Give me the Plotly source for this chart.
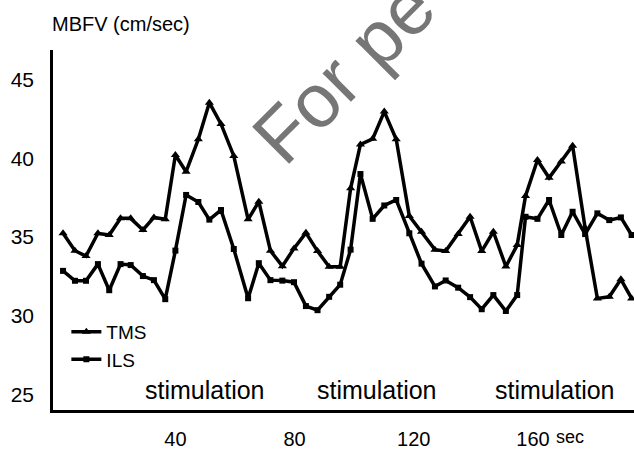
import plotly.graph_objects as go

# time (sec) of each sample
time_s = [2.3, 6.3, 10.0, 14.0, 17.8, 21.6, 25.0, 29.1, 32.8, 36.6,
          40.0, 43.6, 47.7, 51.4, 55.3, 59.6, 64.4, 68.0, 71.9, 75.9,
          79.8, 83.8, 87.7, 91.6, 95.3, 98.8, 102.1, 106.2, 110.1, 114.1,
          118.5, 122.6, 127.1, 130.7, 134.9, 138.9, 142.8, 146.7, 150.9, 154.7,
          157.5, 161.5, 165.4, 169.5, 173.3, 177.5, 181.6, 185.6, 189.5, 193.1]

# mean blood flow velocity (cm/sec)
tms = [35.24, 34.13, 33.79, 35.24, 35.13, 36.19, 36.19, 35.45, 36.25, 36.13,
       40.22, 39.16, 41.22, 43.55, 42.20, 40.16, 36.13, 37.25, 34.13, 33.15,
       34.28, 35.27, 34.11, 33.11, 33.11, 38.10, 40.89, 41.25, 42.98, 41.22,
       36.34, 35.34, 34.20, 34.11, 35.19, 36.29, 34.11, 35.34, 33.13, 34.49,
       37.61, 39.90, 38.77, 39.80, 40.81, 35.57, 31.10, 31.20, 32.31, 31.10]

ils = [32.85, 32.22, 32.22, 33.28, 31.62, 33.28, 33.22, 32.52, 32.26, 31.05,
       34.14, 37.68, 37.23, 36.11, 36.72, 34.24, 31.11, 33.34, 32.26, 32.23,
       32.13, 30.61, 30.35, 31.20, 31.97, 34.20, 39.01, 36.16, 37.01, 37.36,
       35.24, 33.31, 31.86, 32.24, 31.78, 31.18, 30.41, 31.31, 30.30, 31.31,
       36.29, 36.16, 37.36, 35.13, 36.61, 35.19, 36.51, 36.08, 36.25, 35.13]

x_ticks = [40, 80, 120, 160]
x_tick_labels = ["40", "80", "120", "160"]
y_ticks = [25, 30, 35, 40, 45]
y_tick_labels = ["25", "30", "35", "40", "45"]
stim_centers = [49.9, 107.7, 167.4]
stim_label = "stimulation"
watermark = "For pe"

FONT = "Liberation Sans, Arial, sans-serif"

fig = go.Figure()
fig.add_trace(go.Scatter(
    x=time_s, y=tms, name="TMS", mode="lines+markers",
    line=dict(color="black", width=3.5),
    marker=dict(symbol="triangle-up", size=8, color="black"),
    cliponaxis=False,
))
fig.add_trace(go.Scatter(
    x=time_s, y=ils, name="ILS", mode="lines+markers",
    line=dict(color="black", width=3.5),
    marker=dict(symbol="square", size=6, color="black"),
    cliponaxis=False,
))

for c in stim_centers:
    fig.add_annotation(x=c, y=25.25, xref="x", yref="y", text=stim_label,
                       showarrow=False, xanchor="center", yanchor="middle",
                       font=dict(family=FONT, size=25, color="black"))

fig.add_annotation(x=-0.005, y=1.072, xref="paper", yref="paper",
                   text="MBFV (cm/sec)", showarrow=False,
                   xanchor="left", yanchor="middle",
                   font=dict(family=FONT, size=20, color="black"))

fig.add_annotation(x=172.5, y=-0.074, xref="x", yref="paper",
                   text="sec", showarrow=False,
                   xanchor="center", yanchor="middle",
                   font=dict(family=FONT, size=18, color="black"))

fig.add_annotation(x=0.501, y=0.939, xref="paper", yref="paper",
                   text=watermark, showarrow=False,
                   textangle=-45, xanchor="center", yanchor="middle",
                   font=dict(family=FONT, size=76, color="rgb(118,118,118)"))

fig.update_layout(
    width=634, height=451,
    margin=dict(l=53, r=0, t=50, b=41),
    paper_bgcolor="white", plot_bgcolor="white",
    font=dict(family=FONT, color="black"),
    showlegend=True,
    legend=dict(x=0.023, y=0.27, xanchor="left", yanchor="top",
                bgcolor="rgba(0,0,0,0)", font=dict(size=19, family=FONT),
                itemwidth=30, tracegroupgap=0),
    xaxis=dict(range=[-1.07, 193.9], showline=True, linewidth=2.5,
               linecolor="black", mirror=False, showgrid=False, zeroline=False,
               automargin=False,
               tickvals=x_ticks, ticktext=x_tick_labels,
               ticks="outside", ticklen=9, tickcolor="rgba(0,0,0,0)",
               tickfont=dict(size=20, family=FONT)),
    yaxis=dict(range=[24.0, 46.9], showline=True, linewidth=2.5,
               linecolor="black", showgrid=False, zeroline=False,
               automargin=False,
               tickvals=y_ticks, ticktext=y_tick_labels,
               ticks="outside", ticklen=12, tickcolor="rgba(0,0,0,0)",
               tickfont=dict(size=21, family=FONT)),
)

fig.write_html("out.html",
               config={"displayModeBar": False},
               post_script="document.body.style.margin='0';document.body.style.padding='0';")
